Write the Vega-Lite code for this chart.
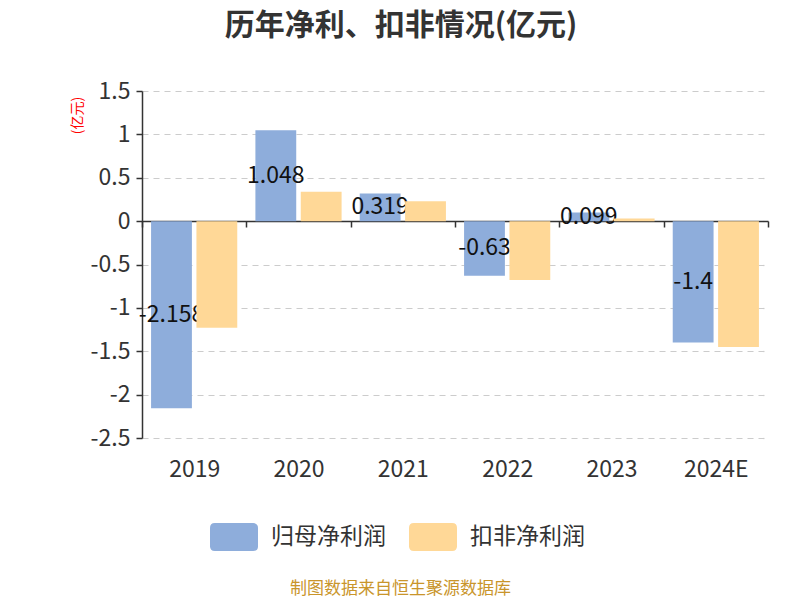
{
  "$schema": "https://vega.github.io/schema/vega-lite/v6.json",
  "width": 626,
  "height": 347,
  "autosize": {"type": "none"},
  "padding": {"left": 142, "top": 91, "right": 32, "bottom": 162},
  "background": "white",
  "config": {
    "font": "Noto Sans CJK SC",
    "view": {"stroke": null}
  },
  "title": {
    "text": "历年净利、扣非情况(亿元)",
    "fontSize": 30,
    "fontWeight": "bold",
    "color": "#333333",
    "anchor": "middle",
    "dx": -54,
    "offset": 39
  },
  "data": {
    "values": [
      {"year": "2019", "type": "归母净利润", "value": -2.158},
      {"year": "2020", "type": "归母净利润", "value": 1.048},
      {"year": "2021", "type": "归母净利润", "value": 0.319},
      {"year": "2022", "type": "归母净利润", "value": -0.63},
      {"year": "2023", "type": "归母净利润", "value": 0.099},
      {"year": "2024E", "type": "归母净利润", "value": -1.4},
      {"year": "2019", "type": "扣非净利润", "value": -1.23},
      {"year": "2020", "type": "扣非净利润", "value": 0.34},
      {"year": "2021", "type": "扣非净利润", "value": 0.23},
      {"year": "2022", "type": "扣非净利润", "value": -0.68},
      {"year": "2023", "type": "扣非净利润", "value": 0.03},
      {"year": "2024E", "type": "扣非净利润", "value": -1.45}
    ]
  },
  "encoding": {
    "x": {
      "field": "year",
      "type": "nominal",
      "sort": null,
      "scale": {"paddingInner": 0, "paddingOuter": 0},
      "axis": {
        "title": "制图数据来自恒生聚源数据库",
        "titleColor": "#c9952b",
        "titleFontSize": 17,
        "titleFontWeight": "normal",
        "titleX": 258,
        "titleY": 367,
        "titleBaseline": "middle",
        "titleAlign": "center",
        "labelAngle": 0,
        "labelFontSize": 23,
        "labelColor": "#333333",
        "labelPadding": 231,
        "offset": -217,
        "domainColor": "#333333",
        "domainWidth": 1.5,
        "tickColor": "#333333",
        "tickWidth": 1.5,
        "tickSize": 6,
        "tickBand": "extent",
        "grid": false
      }
    },
    "xOffset": {
      "field": "type",
      "type": "nominal",
      "sort": ["归母净利润", "扣非净利润"],
      "scale": {"paddingInner": 0.1, "paddingOuter": 0.2}
    },
    "y": {
      "field": "value",
      "type": "quantitative",
      "scale": {"domain": [-2.5, 1.5], "nice": false, "zero": false},
      "axis": {
        "title": "(亿元)",
        "titleColor": "#ff0000",
        "titleFontSize": 14,
        "titleFontWeight": "normal",
        "titleAngle": -90,
        "titleX": -65,
        "titleY": 24,
        "titleAlign": "center",
        "titleBaseline": "middle",
        "values": [-2.5, -2, -1.5, -1, -0.5, 0, 0.5, 1, 1.5],
        "labelExpr": "'' + datum.value",
        "labelFontSize": 23,
        "labelColor": "#333333",
        "labelPadding": 6,
        "domainColor": "#333333",
        "domainWidth": 1.5,
        "tickColor": "#333333",
        "tickWidth": 1.5,
        "tickSize": 6,
        "grid": true,
        "gridColor": "#cccccc",
        "gridDash": [6, 5],
        "gridWidth": 1.2
      }
    },
    "color": {
      "field": "type",
      "type": "nominal",
      "sort": ["归母净利润", "扣非净利润"],
      "scale": {"domain": ["归母净利润", "扣非净利润"], "range": ["#8eaddb", "#ffd897"]},
      "legend": {
        "title": null,
        "orient": "none",
        "direction": "horizontal",
        "legendX": 68,
        "legendY": 422,
        "symbolType": "M-0.8,-0.58 L0.8,-0.58 Q1,-0.58 1,-0.38 L1,0.38 Q1,0.58 0.8,0.58 L-0.8,0.58 Q-1,0.58 -1,0.38 L-1,-0.38 Q-1,-0.58 -0.8,-0.58 Z",
        "symbolSize": 2304,
        "symbolStrokeWidth": 0,
        "symbolOpacity": 1,
        "labelFontSize": 23,
        "labelColor": "#333333",
        "labelOffset": 13,
        "columnPadding": 23
      }
    }
  },
  "layer": [
    {
      "transform": [{"filter": "datum.type === '归母净利润'"}],
      "mark": {"type": "bar", "opacity": 1}
    },
    {
      "transform": [{"filter": "datum.type === '归母净利润'"}],
      "mark": {"type": "text", "fontSize": 23, "color": "#111111", "baseline": "middle", "align": "center"},
      "encoding": {
        "y": {"field": "value", "type": "quantitative", "stack": "zero", "bandPosition": 0.5},
        "text": {"field": "value", "type": "nominal"},
        "color": {"value": "#111111"}
      }
    },
    {
      "transform": [{"filter": "datum.type === '扣非净利润'"}],
      "mark": {"type": "bar", "opacity": 1}
    }
  ]
}
